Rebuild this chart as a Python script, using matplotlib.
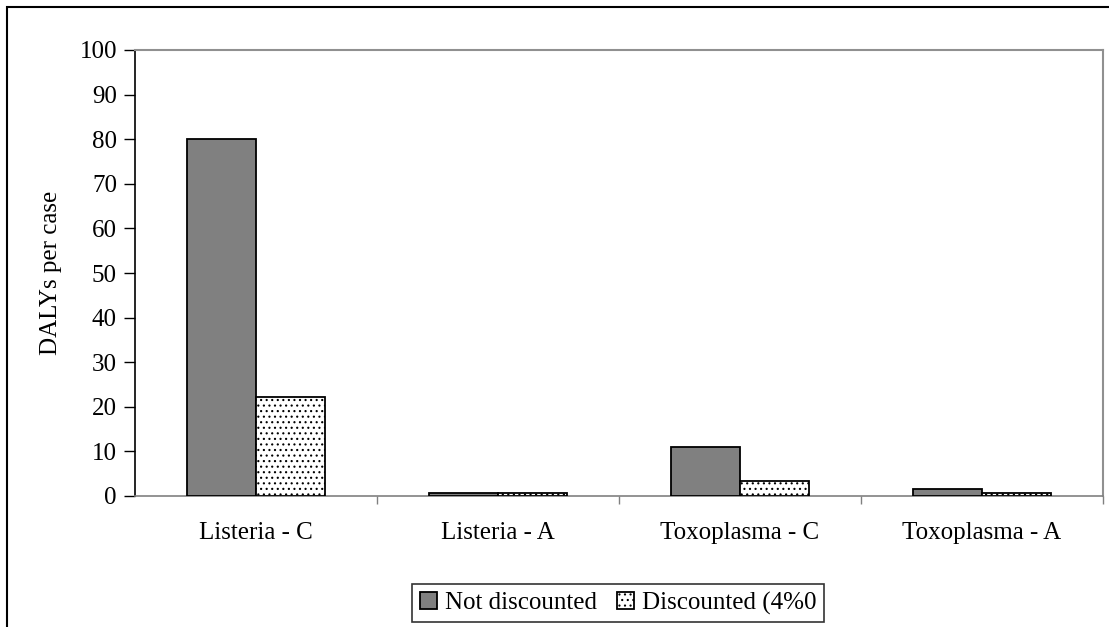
import matplotlib
matplotlib.use("Agg")
import matplotlib.pyplot as plt
import numpy as np
from matplotlib.patches import Rectangle

categories = ["Listeria - C", "Listeria - A", "Toxoplasma - C", "Toxoplasma - A"]
not_discounted = [80.0, 0.7, 11.0, 1.6]
discounted = [22.3, 0.6, 3.4, 0.6]
series_names = ["Not discounted", "Discounted (4%0"]
y_ticks = list(range(0, 101, 10))

plt.rcParams["font.family"] = ["Liberation Serif", "DejaVu Serif"]
plt.rcParams["hatch.linewidth"] = 0.8
plt.rcParams["hatch.color"] = "#333333"

FS = 18
W, H = 1109, 627
fig = plt.figure(figsize=(W / 100, H / 100), dpi=100)

# outer chart frame (bottom runs off the page)
fig.patches.append(Rectangle((7 / W, -0.05), 1.2, (H - 7) / H + 0.05,
                             transform=fig.transFigure, fill=False,
                             edgecolor="black", linewidth=1.5))

left, right, top, bottom = 135, 1103, 50, 496
ax = fig.add_axes([left / W, 1 - bottom / H, (right - left) / W, (bottom - top) / H])

x = np.arange(len(categories))
bw = 0.285
ax.bar(x - bw / 2, not_discounted, width=bw, color="#808080",
       edgecolor="black", linewidth=1.3, label=series_names[0], zorder=3)
ax.bar(x + bw / 2, discounted, width=bw, color="white", hatch="...",
       edgecolor="black", linewidth=1.3, label=series_names[1], zorder=3)

ax.set_xlim(-0.5, len(categories) - 0.5)
ax.set_ylim(0, 100)
ax.set_yticks(y_ticks)
ax.tick_params(axis="y", direction="out", length=8, width=1, labelsize=FS,
               colors="black", pad=5)

# category labels at centres, tick marks at category boundaries
ax.set_xticks(x)
ax.set_xticklabels(categories)
ax.tick_params(axis="x", which="major", length=0, labelsize=FS, pad=19)
ax.set_xticks(np.arange(0.5, len(categories) - 0.4, 1.0), minor=True)
ax.tick_params(axis="x", which="minor", direction="out", length=6,
               width=1, color="#808080")

for s in ["top", "right"]:
    ax.spines[s].set_color("#909090")
    ax.spines[s].set_linewidth(1.5)
ax.spines["bottom"].set_color("#808080")
ax.spines["bottom"].set_linewidth(1.2)
ax.spines["left"].set_color("black")
ax.spines["left"].set_linewidth(1.2)

fig.text(51 / W, 1 - 273 / H, "DALYs per case", rotation=90, fontsize=FS,
         ha="center", va="center")

leg = fig.legend(loc="center", bbox_to_anchor=(618 / W, 1 - 603 / H),
                 ncol=2, fontsize=FS, frameon=True, fancybox=False,
                 edgecolor="black", handlelength=0.7, handleheight=0.7,
                 handletextpad=0.3, columnspacing=0.8, borderpad=0.3,
                 borderaxespad=0)
leg.get_frame().set_linewidth(1.2)

fig.savefig("out.png", dpi=100)
